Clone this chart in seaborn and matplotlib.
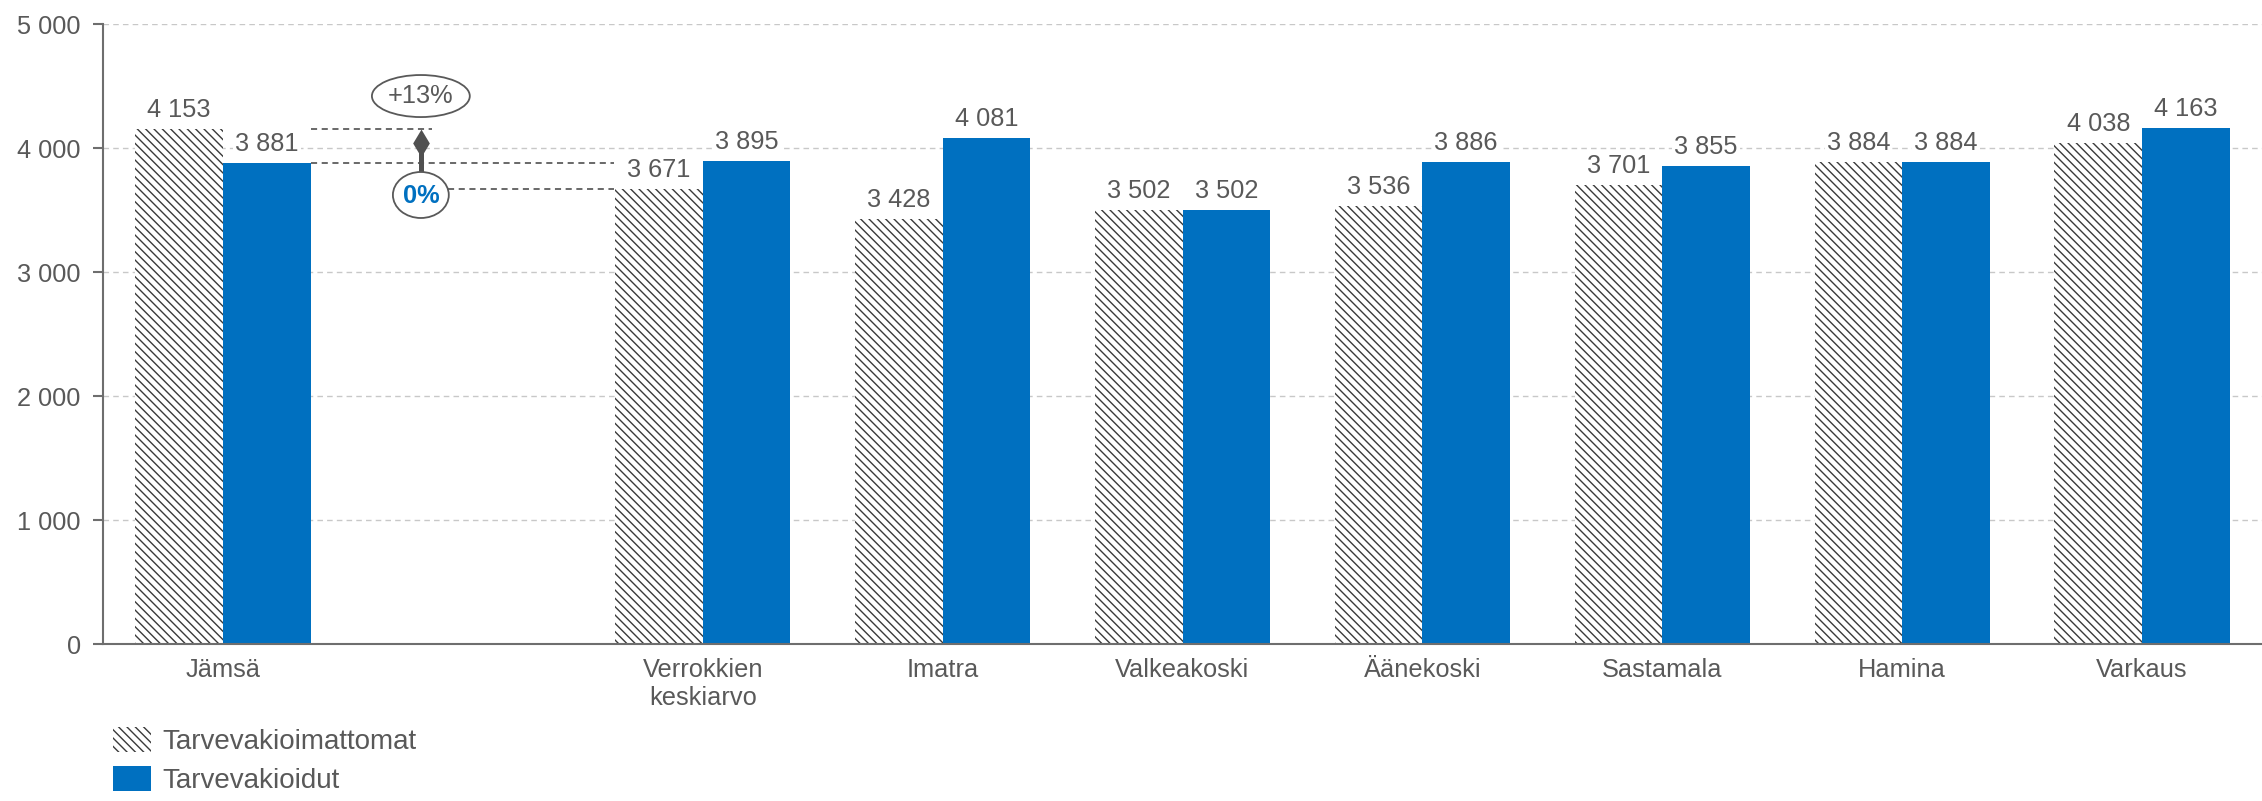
import matplotlib
matplotlib.use("Agg")
import matplotlib.pyplot as plt
from matplotlib.patches import Ellipse
from matplotlib.ticker import FuncFormatter
import pandas as pd
import seaborn as sns

sns.set_theme(style="white")
plt.rcParams["font.family"] = ["Liberation Sans", "DejaVu Sans"]
plt.rcParams["hatch.linewidth"] = 1.0

kunnat = ["Jämsä", " ", "Verrokkien\nkeskiarvo", "Imatra", "Valkeakoski",
          "Äänekoski", "Sastamala", "Hamina", "Varkaus"]
tarvevakioimattomat = [4153, None, 3671, 3428, 3502, 3536, 3701, 3884, 4038]
tarvevakioidut = [3881, None, 3895, 4081, 3502, 3886, 3855, 3884, 4163]
sarjat = ["Tarvevakioimattomat", "Tarvevakioidut"]

TXT = "#595959"
BLUE = "#0070C0"
FS = 18.3

rows = []
for k, a, b in zip(kunnat, tarvevakioimattomat, tarvevakioidut):
    if a is not None:
        rows.append((k, sarjat[0], a))
        rows.append((k, sarjat[1], b))
df = pd.DataFrame(rows, columns=["kunta", "sarja", "arvo"])

fig = plt.figure(figsize=(22.62, 8.01), dpi=100)
ax = fig.add_axes([103 / 2262, 1 - 644 / 801, 1 - 103 / 2262, (644 - 24) / 801])

sns.barplot(data=df, x="kunta", y="arvo", hue="sarja", order=kunnat,
            hue_order=sarjat, palette=["white", BLUE], width=0.73,
            saturation=1, errorbar=None, legend=False, ax=ax)

for p in ax.containers[0]:
    p.set_hatch("\\\\\\\\")
    p.set_edgecolor("#3a3a3a")
    p.set_linewidth(0)
for p in ax.containers[1]:
    p.set_edgecolor(BLUE)
    p.set_linewidth(0)

fmt = lambda v: f"{v:,.0f}".replace(",", " ")
for c in ax.containers:
    ax.bar_label(c, fmt=fmt, padding=5, fontsize=FS, color=TXT,
                 bbox=dict(fc="white", ec="none", pad=1.5))

ax.set_xlim(-0.5, 8.5)
ax.set_ylim(0, 5000)
ax.set_yticks(range(0, 5001, 1000))
ax.yaxis.set_major_formatter(FuncFormatter(lambda v, p: fmt(v)))
ax.set_xlabel("")
ax.set_ylabel("")
ax.set_axisbelow(True)
ax.yaxis.grid(True, color="#c8c8c8", linestyle=(0, (4, 3)), linewidth=1)
for s in ["top", "right"]:
    ax.spines[s].set_visible(False)
for s in ["left", "bottom"]:
    ax.spines[s].set_color("#6e6e6e")
    ax.spines[s].set_linewidth(1.5)
ax.tick_params(axis="y", labelsize=FS, labelcolor=TXT, left=True, length=7,
               width=1.5, color="#6e6e6e", pad=9)
ax.tick_params(axis="x", labelsize=FS, labelcolor=TXT, length=0, pad=10)

# Jämsä vs. verrokkien keskiarvo
j_raw, j_adj = tarvevakioimattomat[0], tarvevakioidut[0]
v_raw, v_adj = tarvevakioimattomat[2], tarvevakioidut[2]
ero_raw = round((j_raw / v_raw - 1) * 100)
ero_adj = round((j_adj / v_adj - 1) * 100)
pct = lambda e: f"+{e}%" if e > 0 else f"{e}%"

xa = 0.825
dash = dict(color="#404040", linestyle=(0, (4, 3)), linewidth=1.1)
ax.plot([0.365, 0.87], [j_raw, j_raw], **dash)
ax.plot([0.365, 1.63], [j_adj, j_adj], **dash)
ax.plot([0.94, 1.63], [v_raw, v_raw], **dash)
ax.plot([xa, xa], [4040, 3800], color="#505050", linewidth=3.6, solid_capstyle="butt")
ax.plot([xa], [4040], marker=[(0, 1), (0.6, 0), (0, -1), (-0.6, 0), (0, 1)],
        markersize=20, color="#505050", markeredgewidth=0)

ax.add_patch(Ellipse((xa, 4419), 0.408, 339, fc="white", ec=TXT, lw=1.3, zorder=5))
ax.text(xa, 4419, pct(ero_raw), ha="center", va="center", fontsize=FS,
        color=TXT, zorder=6)
ax.add_patch(Ellipse((xa, 3621), 0.233, 371, fc="white", ec=TXT, lw=1.3, zorder=5))
ax.text(xa, 3615, pct(ero_adj), ha="center", va="center", fontsize=FS,
        color=BLUE, fontweight="bold", zorder=6)

handles = [ax.containers[0][0], ax.containers[1][0]]
fig.legend(handles, sarjat, loc="upper left", bbox_to_anchor=(113 / 2262, 1 - 727 / 801),
           frameon=False, fontsize=20, labelcolor=TXT, handlelength=1.37,
           handleheight=1.0, handletextpad=0.4, labelspacing=0.4,
           borderpad=0, borderaxespad=0)

fig.savefig("out.png", dpi=100)
